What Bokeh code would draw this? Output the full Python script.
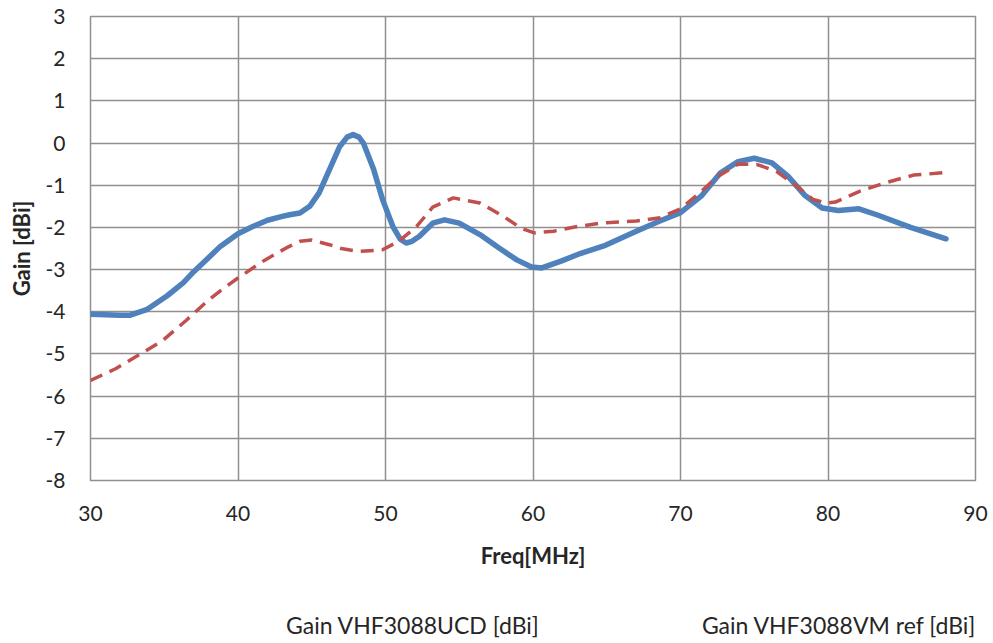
from bokeh.plotting import figure
from bokeh.layouts import column
from bokeh.models import Range1d, FixedTicker, Legend, LegendItem, PrintfTickFormatter
from bokeh.embed import file_html
from bokeh.resources import INLINE

# Frequency [MHz] and gain [dBi]
freq_ucd = [30, 31, 32, 32.7, 33.8, 35.2, 36.3, 37, 38, 38.8, 40, 41, 42, 43, 43.5,
            44.2, 44.86, 45.5, 46.2, 46.9, 47.4, 47.8, 48.2, 48.5, 49.2, 49.8, 50.5,
            51, 51.4, 51.8, 52.3, 53.2, 54, 55, 56.4, 57.7, 58.9, 59.9, 60.6, 61.9,
            63.2, 64.8, 67, 68.6, 70, 71.4, 72.7, 73.9, 75, 76.2, 77.3, 78.4, 79.6,
            80.7, 82.1, 83.3, 85.6, 88]
gain_ucd = [-4.06, -4.07, -4.08, -4.08, -3.95, -3.62, -3.31, -3.05, -2.72, -2.45,
            -2.15, -1.98, -1.83, -1.74, -1.70, -1.66, -1.50, -1.18, -0.63, -0.08,
            0.14, 0.20, 0.14, 0.0, -0.63, -1.34, -1.98, -2.28, -2.37, -2.33, -2.21,
            -1.90, -1.82, -1.90, -2.17, -2.49, -2.77, -2.94, -2.96, -2.80, -2.62,
            -2.44, -2.09, -1.85, -1.65, -1.26, -0.71, -0.44, -0.36, -0.47, -0.79,
            -1.23, -1.54, -1.60, -1.56, -1.70, -2.00, -2.27]

freq_vm = [30, 31.7, 33.3, 34.9, 36.5, 38, 39, 40, 41.7, 43.3, 44.2, 45, 46.2, 47,
           48.2, 49.8, 50.9, 52.1, 53.2, 54.6, 56.4, 58, 59.2, 60.1, 61.4, 63, 64.8,
           67, 68.6, 70, 71.4, 72.5, 73.9, 75.2, 76.5, 77.9, 79, 79.9, 80.5, 82.1,
           83.9, 85.8, 88]
gain_vm = [-5.63, -5.35, -5.02, -4.68, -4.20, -3.72, -3.45, -3.20, -2.80, -2.48,
           -2.33, -2.30, -2.41, -2.50, -2.57, -2.53, -2.33, -1.98, -1.52, -1.30,
           -1.42, -1.74, -2.02, -2.13, -2.09, -1.98, -1.89, -1.85, -1.77, -1.56,
           -1.15, -0.80, -0.50, -0.51, -0.67, -1.03, -1.34, -1.42, -1.40, -1.15,
           -0.94, -0.76, -0.70]

series_labels = ["Gain VHF3088UCD [dBi]", "Gain VHF3088VM ref [dBi]"]
x_ticks = [30, 40, 50, 60, 70, 80, 90]
y_ticks = [3, 2, 1, 0, -1, -2, -3, -4, -5, -6, -7, -8]

FONT = "Lato"
TXT = "#262626"
GRID = "#8f8f8f"
BLUE = "#4F81BD"
RED = "#C0504D"

p = figure(frame_width=885, frame_height=464, output_backend="svg", toolbar_location=None,
           x_range=Range1d(30, 90), y_range=Range1d(-8, 3),
           min_border_left=90, min_border_right=15, min_border_top=16,
           min_border_bottom=110)

p.outline_line_color = GRID
p.outline_line_width = 1.5

for ax in (p.xaxis[0], p.yaxis[0]):
    ax.axis_line_color = None
    ax.major_tick_line_color = None
    ax.minor_tick_line_color = None
    ax.major_tick_out = 0
    ax.major_tick_in = 0
    ax.major_label_text_font = FONT
    ax.major_label_text_font_size = "21px"
    ax.major_label_text_color = TXT
    ax.axis_label_text_font = FONT
    ax.axis_label_text_font_size = "22px"
    ax.axis_label_text_font_style = "bold"
    ax.axis_label_text_color = TXT
    ax.formatter = PrintfTickFormatter(format="%d")

p.xaxis.ticker = FixedTicker(ticks=x_ticks)
p.yaxis.ticker = FixedTicker(ticks=y_ticks)
p.xaxis.axis_label = "Freq[MHz]"
p.yaxis.axis_label = "Gain [dBi]"
p.xaxis.major_label_standoff = 25
p.yaxis.major_label_standoff = 25
p.xaxis.axis_label_standoff = 18
p.yaxis.axis_label_standoff = 8

p.xgrid.ticker = FixedTicker(ticks=x_ticks)
p.ygrid.ticker = FixedTicker(ticks=y_ticks)
p.xgrid.grid_line_color = GRID
p.ygrid.grid_line_color = GRID
p.xgrid.grid_line_width = 1.5
p.ygrid.grid_line_width = 1.5

p.line(freq_ucd, gain_ucd, line_color=BLUE, line_width=5.5,
       line_join="round", line_cap="round")
p.line(freq_vm, gain_vm, line_color=RED, line_width=3.5,
       line_dash="13 8", line_join="round")

# Legend strip below the chart (legend-only renderers carry no data)
p2 = figure(width=990, height=50, output_backend="svg", toolbar_location=None,
            x_range=Range1d(0, 1), y_range=Range1d(0, 1),
            x_axis_location=None, y_axis_location=None, min_border=0)
p2.outline_line_color = None
for g in p2.grid:
    g.visible = False
l1 = p2.line(x=[], y=[], line_color=BLUE, line_width=5.5, line_cap="round")
l2 = p2.line(x=[], y=[], line_color=RED, line_width=3.5, line_dash="13 8")

legend = Legend(items=[LegendItem(label=series_labels[0], renderers=[l1]),
                       LegendItem(label=series_labels[1], renderers=[l2])],
                orientation="horizontal", location=(120, 1),
                border_line_color=None, background_fill_alpha=0,
                label_text_font=FONT, label_text_font_size="23px",
                label_text_color=TXT, glyph_width=72, glyph_height=18,
                label_standoff=4, spacing=87, margin=0, padding=0)
p2.add_layout(legend, "center")

layout = column(p, p2, spacing=0)
open("out.html", "w").write(file_html(layout, INLINE))
